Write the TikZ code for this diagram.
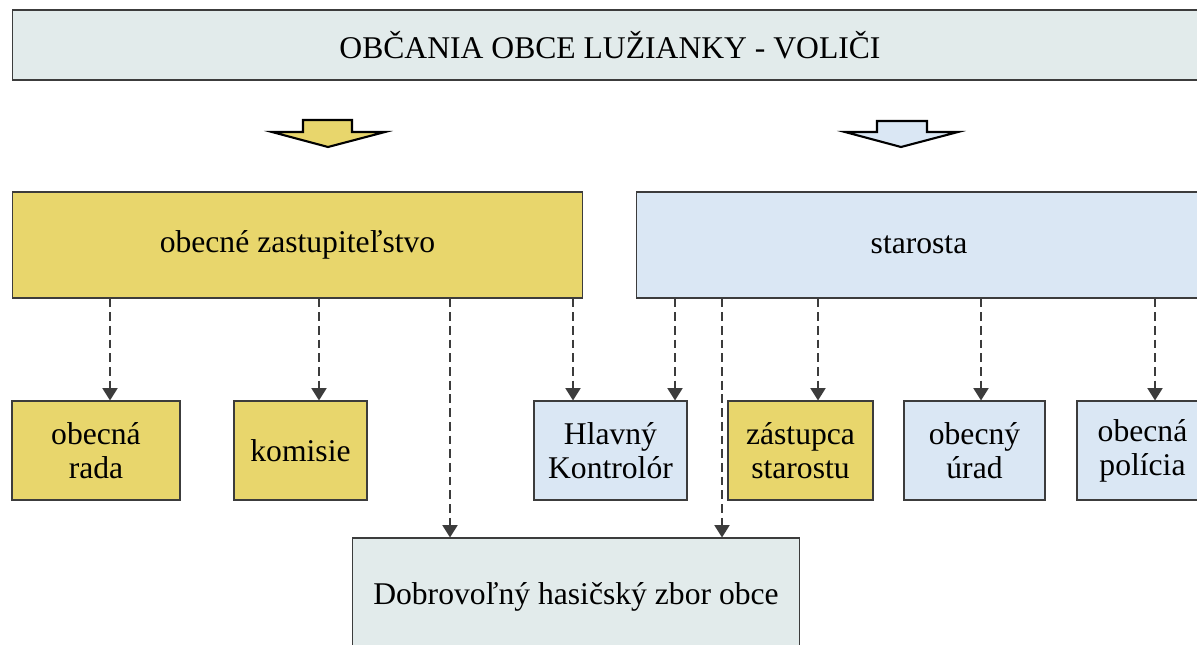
\documentclass[tikz,border=0pt]{standalone}
\usepackage{fontspec}
\setmainfont{Liberation Serif}
\usetikzlibrary{arrows.meta}

\definecolor{zlta}{RGB}{232,214,108}
\definecolor{modra}{RGB}{218,231,244}
\definecolor{siva}{RGB}{226,235,235}
\definecolor{ciara}{RGB}{60,60,60}

\begin{document}
\begin{tikzpicture}[x=0.02cm, y=-0.02cm,
  box/.style={draw=ciara, line width=0.6pt, align=center, inner sep=0pt,
    font=\fontsize{18}{19.5}\selectfont},
  yellowbox/.style={box, fill=zlta},
  bluebox/.style={box, fill=modra},
  greybox/.style={box, fill=siva},
  link/.style={draw=ciara, line width=1.1pt, dash pattern=on 5pt off 2.8pt,
    -{Triangle[width=8.5pt, length=7pt]}},
  block/.style={draw=black, line width=1.2pt, line join=miter}]
\useasboundingbox (0,0) rectangle (1197,645);
\clip (0,0) rectangle (1197,645);

% voliči
\node[greybox, minimum width=23.92cm, minimum height=1.4cm] (volici) at (610,45)
  {OBČANIA OBCE LUŽIANKY - VOLIČI};

% block arrows
\filldraw[block, fill=zlta] (303,120) -- (352,120) -- (352,132) -- (385,132)
  -- (328,147) -- (272,132) -- (303,132) -- cycle;
\filldraw[block, fill=modra] (877,121) -- (927,121) -- (927,132) -- (958,132)
  -- (901,147) -- (845,132) -- (877,132) -- cycle;

% organy
\node[yellowbox, minimum width=11.42cm, minimum height=2.12cm] (zastup) at (297.5,245)
  {obecné zastupiteľstvo};
\node[bluebox, minimum width=11.3cm, minimum height=2.12cm] (starosta) at (919,245)
  {starosta};

\node[yellowbox, minimum width=3.36cm, minimum height=1.98cm] (rada) at (96,450.5)
  {obecná\\rada};
\node[yellowbox, minimum width=2.66cm, minimum height=1.98cm] (komisie) at (300.5,450.5)
  {komisie};
\node[bluebox, minimum width=3.06cm, minimum height=1.98cm] (kontrolor) at (610.5,450.5)
  {Hlavný\\Kontrolór};
\node[yellowbox, minimum width=2.9cm, minimum height=1.98cm] (zastupca) at (800.5,450.5)
  {zástupca\\starostu};
\node[bluebox, minimum width=2.82cm, minimum height=1.98cm] (urad) at (974.5,450.5)
  {obecný\\úrad};
\node[bluebox, minimum width=2.62cm, minimum height=1.98cm] (policia) at (1142.5,450.5)
  {obecná\\polícia};

\node[greybox, minimum width=8.96cm, minimum height=2.36cm] (hasici) at (576,597)
  {Dobrovoľný hasičský zbor obce};

% vazby
\draw[link] (zastup.south -| 110,0) -- (rada.north -| 110,0);
\draw[link] (zastup.south -| 319,0) -- (komisie.north -| 319,0);
\draw[link] (zastup.south -| 450,0) -- (hasici.north -| 450,0);
\draw[link] (zastup.south -| 573,0) -- (kontrolor.north -| 573,0);
\draw[link] (starosta.south -| 675,0) -- (kontrolor.north -| 675,0);
\draw[link] (starosta.south -| 722,0) -- (hasici.north -| 722,0);
\draw[link] (starosta.south -| 818,0) -- (zastupca.north -| 818,0);
\draw[link] (starosta.south -| 981,0) -- (urad.north -| 981,0);
\draw[link] (starosta.south -| 1155,0) -- (policia.north -| 1155,0);
\end{tikzpicture}
\end{document}
